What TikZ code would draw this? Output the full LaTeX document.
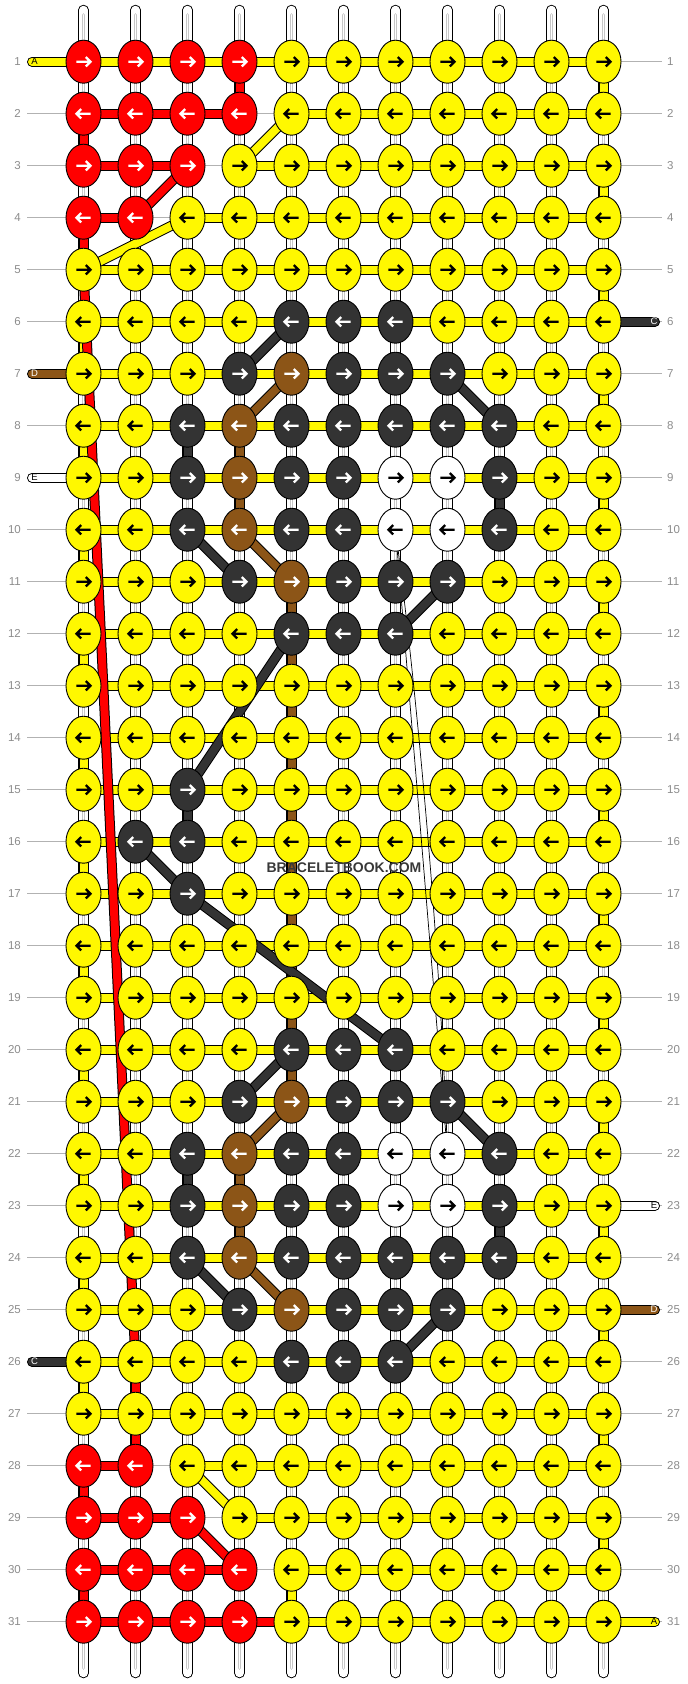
\documentclass[tikz,border=0pt]{standalone}
\usepackage{fontspec}
\setmainfont{Liberation Sans}
\usetikzlibrary{shapes.geometric,calc}

\definecolor{kY}{HTML}{FFF800}
\definecolor{kR}{HTML}{FF0000}
\definecolor{kK}{HTML}{333333}
\definecolor{kB}{HTML}{8C5517}
\definecolor{kW}{HTML}{FFFFFF}
\colorlet{aY}{black}
\colorlet{aR}{white}
\colorlet{aK}{white}
\colorlet{aB}{white}
\colorlet{aW}{black}

\pgfdeclarelayer{grid}
\pgfdeclarelayer{warps}
\pgfdeclarelayer{strands}
\pgfdeclarelayer{over}
\pgfsetlayers{grid,warps,strands,over,main}

\begin{document}
\begin{tikzpicture}[x=1pt,y=-1pt,
  tube/.style={draw=black,line width=10,postaction={draw=#1,line width=8}},
  pill/.style={tube=#1,line cap=round},
  warp/.style={draw=black,line width=10.5,line cap=round,
    postaction={draw=white,line width=8.5},
    postaction={draw=black!22,line width=3.6,shorten <=5,shorten >=5},
    postaction={draw=white,line width=1.6,shorten <=5,shorten >=5}},
  thread/.style={draw=black,line width=0.7}]
\tikzstyle{knot}=[ellipse,draw=black,line width=0.9,minimum width=35,minimum height=43,inner sep=0]
\tikzstyle{arrowline}=[line width=2.3]
\tikzstyle{rowline}=[draw=black!30,line width=1]
\tikzstyle{num}=[text=black!45,font=\fontsize{11.5}{12}\selectfont,inner sep=0]
\tikzstyle{tag}=[font=\fontsize{9.5}{10}\selectfont,inner sep=0]

\useasboundingbox (0,0) rectangle (688,1684);

\foreach \spec [count=\r] in {
  {R,R,R,R,Y,Y,Y,Y,Y,Y,Y},{R,R,R,R,Y,Y,Y,Y,Y,Y,Y},{R,R,R,Y,Y,Y,Y,Y,Y,Y,Y},
  {R,R,Y,Y,Y,Y,Y,Y,Y,Y,Y},{Y,Y,Y,Y,Y,Y,Y,Y,Y,Y,Y},{Y,Y,Y,Y,K,K,K,Y,Y,Y,Y},
  {Y,Y,Y,K,B,K,K,K,Y,Y,Y},{Y,Y,K,B,K,K,K,K,K,Y,Y},{Y,Y,K,B,K,K,W,W,K,Y,Y},
  {Y,Y,K,B,K,K,W,W,K,Y,Y},{Y,Y,Y,K,B,K,K,K,Y,Y,Y},{Y,Y,Y,Y,K,K,K,Y,Y,Y,Y},
  {Y,Y,Y,Y,Y,Y,Y,Y,Y,Y,Y},{Y,Y,Y,Y,Y,Y,Y,Y,Y,Y,Y},{Y,Y,K,Y,Y,Y,Y,Y,Y,Y,Y},
  {Y,K,K,Y,Y,Y,Y,Y,Y,Y,Y},{Y,Y,K,Y,Y,Y,Y,Y,Y,Y,Y},{Y,Y,Y,Y,Y,Y,Y,Y,Y,Y,Y},
  {Y,Y,Y,Y,Y,Y,Y,Y,Y,Y,Y},{Y,Y,Y,Y,K,K,K,Y,Y,Y,Y},{Y,Y,Y,K,B,K,K,K,Y,Y,Y},
  {Y,Y,K,B,K,K,W,W,K,Y,Y},{Y,Y,K,B,K,K,W,W,K,Y,Y},{Y,Y,K,B,K,K,K,K,K,Y,Y},
  {Y,Y,Y,K,B,K,K,K,Y,Y,Y},{Y,Y,Y,Y,K,K,K,Y,Y,Y,Y},{Y,Y,Y,Y,Y,Y,Y,Y,Y,Y,Y},
  {R,R,Y,Y,Y,Y,Y,Y,Y,Y,Y},{R,R,R,Y,Y,Y,Y,Y,Y,Y,Y},{R,R,R,R,Y,Y,Y,Y,Y,Y,Y},
  {R,R,R,R,Y,Y,Y,Y,Y,Y,Y}}{
  \pgfmathsetmacro\d{2*mod(\r,2)-1}
  \foreach \k [count=\c from 0] in \spec {
    \node[knot,fill=k\k] (k-\r-\c) at ({83.5+52*\c},{61.7+52*(\r-1)}) {};
    \begin{scope}[shift={(k-\r-\c.center)},xscale=\d]
      \draw[arrowline,draw=a\k] (-7.2,0) -- (7,0) (2.3,-4.7) -- (7,0) -- (2.3,4.7);
    \end{scope}
  }
}

\begin{pgfonlayer}{grid}
\foreach \r in {1,...,31}{
  \coordinate (gl-\r) at (27,{61.7+52*(\r-1)});
  \coordinate (gr-\r) at (662,{61.7+52*(\r-1)});
  \draw[rowline] (gl-\r) -- (gr-\r);
  \node[num,anchor=east] (nl-\r) at (21,{61.7+52*(\r-1)}) {\r};
  \node[num,anchor=west] (nr-\r) at (667,{61.7+52*(\r-1)}) {\r};
}
\end{pgfonlayer}

\begin{pgfonlayer}{warps}
\foreach \c in {0,...,10}{
  \coordinate (wt-\c) at ({83.5+52*\c},10);
  \coordinate (wb-\c) at ({83.5+52*\c},1673);
  \draw[warp] (wt-\c) -- (wb-\c);
}
\end{pgfonlayer}

\begin{pgfonlayer}{strands}
\foreach \r/\a/\b/\col in {1/0/10/kY,2/0/3/kR,2/4/10/kY,3/0/2/kR,3/3/10/kY,4/0/1/kR,4/2/10/kY,
  28/0/1/kR,28/2/10/kY,29/0/2/kR,29/3/10/kY,30/0/3/kR,30/4/10/kY,31/0/4/kR,31/4/10/kY}
  \draw[tube=\col] (k-\r-\a.center) -- (k-\r-\b.center);
\foreach \r in {5,...,27}
  \draw[tube=kY] (k-\r-0.center) -- (k-\r-10.center);
\foreach \r [evaluate=\r as \s using int(\r+1)] in {1,3,...,29}
  \draw[tube=kY] (k-\r-10.center) -- (k-\s-10.center);
\foreach \r [evaluate=\r as \s using int(\r+1)] in {6,8,...,26}
  \draw[tube=kY] (k-\r-0.center) -- (k-\s-0.center);
\foreach \r/\c/\col [evaluate=\r as \s using int(\r+1)] in {30/4/kY,1/3/kR,2/0/kR,4/0/kR,28/0/kR,30/0/kR,
  26/1/kR,27/1/kR,8/2/kK,15/2/kK,22/2/kK,9/8/kK,23/8/kK,8/3/kB,9/3/kB,22/3/kB,23/3/kB,
  11/4/kB,12/4/kB,13/4/kB,14/4/kB,15/4/kB,16/4/kB,17/4/kB,18/4/kB,19/4/kB,20/4/kB}
  \draw[tube=\col] (k-\r-\c.center) -- (k-\s-\c.center);
\end{pgfonlayer}

\begin{pgfonlayer}{over}
\foreach \ra/\ca/\rb/\cb/\col in {2/4/3/3/kY,4/2/5/0/kY,28/2/29/3/kY,3/2/4/1/kR,29/2/30/3/kR,
  5/0/26/1/kR,6/4/7/3/kK,7/7/8/8/kK,10/2/11/3/kK,11/7/12/6/kK,12/4/15/2/kK,16/1/17/2/kK,
  17/2/20/6/kK,20/4/21/3/kK,21/7/22/8/kK,24/2/25/3/kK,25/7/26/6/kK,
  7/4/8/3/kB,10/3/11/4/kB,21/4/22/3/kB,24/3/25/4/kB}
  \draw[tube=\col] (k-\ra-\ca.center) -- (k-\rb-\cb.center);
\draw[thread] (k-10-6.center) -- (k-22-7.center);
\draw[thread] (k-10-6.center) .. controls ($(k-10-6.center)!0.3!(k-22-7.center)+(9,0)$)
  and ($(k-10-6.center)!0.7!(k-22-7.center)+(9,0)$) .. (k-22-7.center);
\end{pgfonlayer}

\foreach \r/\col/\t/\tc in {1/kY/A/black,7/kB/D/white,9/kW/E/black,26/kK/C/white}{
  \coordinate (pl-\r) at (32,{61.7+52*(\r-1)});
  \begin{pgfonlayer}{strands}
    \draw[pill=\col] (pl-\r) -- (k-\r-0.center);
  \end{pgfonlayer}
  \node[tag,text=\tc] (tl-\r) at (34.5,{61.7+52*(\r-1)}) {\t};
}
\foreach \r/\col/\t/\tc in {6/kK/C/white,23/kW/E/black,25/kB/D/white,31/kY/A/black}{
  \coordinate (pr-\r) at (655,{61.7+52*(\r-1)});
  \begin{pgfonlayer}{strands}
    \draw[pill=\col] (k-\r-10.center) -- (pr-\r);
  \end{pgfonlayer}
  \node[tag,text=\tc] (tr-\r) at (654,{61.7+52*(\r-1)}) {\t};
}

\node[font=\bfseries\fontsize{14}{14}\selectfont,text=black!78] (mark) at (344,868) {BRACELETBOOK.COM};
\end{tikzpicture}
\end{document}
